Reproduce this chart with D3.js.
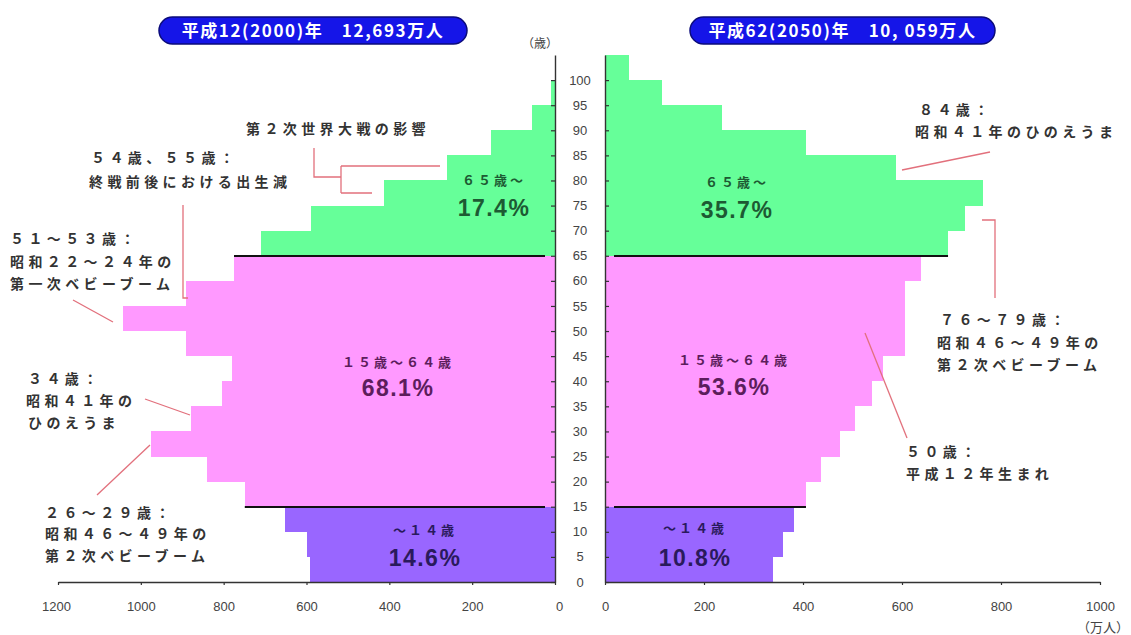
<!DOCTYPE html>
<html lang="ja">
<head>
<meta charset="utf-8">
<script src="https://cdn.jsdelivr.net/npm/d3@7"></script>
<style>
  html, body { margin: 0; padding: 0; background: #ffffff; }
  svg { display: block; }
</style>
</head>
<body>
<svg id="chart" width="1131" height="635"></svg>
<script>
// ---- data -------------------------------------------------------------
// start age of each 5-year group (the last group is 100+)
const ageGroups = [0, 5, 10, 15, 20, 25, 30, 35, 40, 45, 50, 55, 60, 65, 70, 75, 80, 85, 90, 95, 100];
// population (10,000 persons) per group
const pop2000 = [592, 600, 652, 749, 840, 976, 878, 805, 781, 890, 1043, 890, 775, 710, 589, 413, 260, 155, 56, 10, 1];
const pop2050 = [340, 360, 381, 406, 436, 474, 505, 540, 562, 607, 607, 607, 639, 693, 727, 764, 587, 406, 237, 116, 49];
const ageTicks = [0, 5, 10, 15, 20, 25, 30, 35, 40, 45, 50, 55, 60, 65, 70, 75, 80, 85, 90, 95, 100];
const xTicks2000 = [0, 200, 400, 600, 800, 1000, 1200];
const xTicks2050 = [0, 200, 400, 600, 800, 1000];
const titles = ["平成12(2000)年　12,693万人", "平成62(2050)年　10, 059万人"];
const bandNames = ["～１４歳", "１５歳～６４歳", "６５歳～"];
const share2000 = ["14.6%", "68.1%", "17.4%"];
const share2050 = ["10.8%", "53.6%", "35.7%"];

// ---- setup ------------------------------------------------------------
const svg = d3.select("#chart");
const JP = '"Noto Sans CJK JP", "Noto Sans", sans-serif';
const NUM = '"Liberation Sans", Arial, sans-serif';

const y = d3.scaleLinear().domain([0, 105]).range([582, 55]);
const xL = d3.scaleLinear().domain([0, 1200]).range([555, 58]);
const xR = d3.scaleLinear().domain([0, 1000]).range([605, 1100]);

const bandOf = a => (a < 15 ? 0 : a < 65 ? 1 : 2);
const fills = ["#9966ff", "#ff99ff", "#66ff99"];
const textCols = ["#2a1a5c", "#5c1d5c", "#1d5a33"];

const yTop = a => Math.round(y(a + 5));
const yBot = a => Math.round(y(a));

// ---- bars -------------------------------------------------------------
const left = ageGroups.map((a, i) => ({ a, v: pop2000[i] }));
const right = ageGroups.map((a, i) => ({ a, v: pop2050[i] }));

svg.append("g").selectAll("rect").data(left).join("rect")
  .attr("x", d => xL(d.v))
  .attr("y", d => yTop(d.a))
  .attr("width", d => xL(0) - xL(d.v))
  .attr("height", d => yBot(d.a) - yTop(d.a))
  .attr("fill", d => fills[bandOf(d.a)])
  .attr("shape-rendering", "crispEdges");

svg.append("g").selectAll("rect").data(right).join("rect")
  .attr("x", xR(0))
  .attr("y", d => yTop(d.a))
  .attr("width", d => xR(d.v) - xR(0))
  .attr("height", d => yBot(d.a) - yTop(d.a))
  .attr("fill", d => fills[bandOf(d.a)])
  .attr("shape-rendering", "crispEdges");

// ---- band separators at ages 15 and 65 -------------------------------
const idx = a => ageGroups.indexOf(a);
[15, 65].forEach(b => {
  const wL = Math.max(pop2000[idx(b)], pop2000[idx(b - 5)]);
  const wR = Math.max(pop2050[idx(b)], pop2050[idx(b - 5)]);
  svg.append("line")
    .attr("x1", xL(wL)).attr("x2", 545)
    .attr("y1", Math.round(y(b))).attr("y2", Math.round(y(b)))
    .attr("stroke", "#111").attr("stroke-width", 2);
  svg.append("line")
    .attr("x1", 614).attr("x2", xR(wR))
    .attr("y1", Math.round(y(b))).attr("y2", Math.round(y(b)))
    .attr("stroke", "#111").attr("stroke-width", 2);
});

// ---- axes -------------------------------------------------------------
function styleAxis(g) {
  g.selectAll("path.domain").attr("stroke", "#333").attr("stroke-width", 1.4);
  g.selectAll(".tick line").attr("stroke", "#333").attr("stroke-width", 1.2);
}

svg.append("g").attr("transform", "translate(555,0)")
  .call(d3.axisLeft(y).tickValues(ageTicks).tickSize(4).tickSizeOuter(0).tickFormat(""))
  .call(styleAxis);
svg.append("g").attr("transform", "translate(605,0)")
  .call(d3.axisRight(y).tickValues(ageTicks).tickSize(4).tickSizeOuter(0).tickFormat(""))
  .call(styleAxis);

const plain = d3.format("d");
const bottomL = svg.append("g").attr("transform", "translate(0,582)")
  .call(d3.axisBottom(xL).tickValues(xTicks2000).tickFormat(plain)
    .tickSize(3).tickSizeOuter(0).tickPadding(17))
  .call(styleAxis);
const bottomR = svg.append("g").attr("transform", "translate(0,582)")
  .call(d3.axisBottom(xR).tickValues(xTicks2050).tickFormat(plain)
    .tickSize(3).tickSizeOuter(0).tickPadding(17))
  .call(styleAxis);
[bottomL, bottomR].forEach(g => g.selectAll(".tick text")
  .attr("font-family", NUM).attr("font-size", 13).attr("fill", "#444"));
bottomL.selectAll(".tick text").filter(d => d === 0).attr("dx", 4);
bottomL.selectAll(".tick text").filter(d => d === 1200).attr("dx", -2);

// age labels between the two pyramids
svg.append("g").selectAll("text").data(ageTicks).join("text")
  .attr("x", 580).attr("y", d => y(d))
  .attr("dy", "0.35em")
  .attr("text-anchor", "middle")
  .attr("font-family", NUM).attr("font-size", 13).attr("fill", "#444")
  .text(d => d);

svg.append("text").attr("x", 540).attr("y", 44).attr("dy", "0.35em")
  .attr("text-anchor", "middle").attr("font-family", JP).attr("font-size", 12)
  .attr("fill", "#444").text("（歳）");
svg.append("text").attr("x", 1077).attr("y", 627).attr("dy", "0.35em")
  .attr("font-family", JP).attr("font-size", 13)
  .attr("fill", "#444").text("（万人）");

// ---- title pills ------------------------------------------------------
const pills = [
  { x: 159, w: 308, t: titles[0] },
  { x: 690, w: 305, t: titles[1] }
];
pills.forEach(p => {
  svg.append("rect").attr("x", p.x).attr("y", 17).attr("width", p.w).attr("height", 27)
    .attr("rx", 13.5).attr("fill", "#1515e8").attr("stroke", "#0b0b7a").attr("stroke-width", 1.5);
  svg.append("text").attr("x", p.x + p.w / 2).attr("y", 31).attr("dy", "0.35em")
    .attr("text-anchor", "middle").attr("font-family", JP).attr("font-weight", 700)
    .attr("font-size", 17).attr("letter-spacing", 1.6).attr("fill", "#ffffff").text(p.t);
});

// ---- band labels ------------------------------------------------------
const bandLabels = [
  { b: 2, x: 494, y1: 180, y2: 208, s: share2000[2] },
  { b: 1, x: 398, y1: 362, y2: 388, s: share2000[1] },
  { b: 0, x: 425, y1: 530, y2: 558, s: share2000[0] },
  { b: 2, x: 737, y1: 182, y2: 210, s: share2050[2] },
  { b: 1, x: 734, y1: 360, y2: 387, s: share2050[1] },
  { b: 0, x: 695, y1: 528, y2: 558, s: share2050[0] }
];
bandLabels.forEach(l => {
  svg.append("text").attr("x", l.x).attr("y", l.y1).attr("dy", "0.35em")
    .attr("text-anchor", "middle").attr("font-family", JP).attr("font-weight", 700)
    .attr("font-size", 13).attr("letter-spacing", 3).attr("fill", textCols[l.b])
    .text(bandNames[l.b]);
  svg.append("text").attr("x", l.x).attr("y", l.y2).attr("dy", "0.35em")
    .attr("text-anchor", "middle").attr("font-family", NUM).attr("font-weight", 700)
    .attr("font-size", 23).attr("letter-spacing", 1.5).attr("fill", textCols[l.b])
    .text(l.s);
});

// ---- annotations ------------------------------------------------------
const notes = [
  ["第２次世界大戦の影響", 246, 129],
  ["５４歳、５５歳：", 91, 158],
  ["終戦前後における出生減", 89, 182],
  ["５１～５３歳：", 10, 239],
  ["昭和２２～２４年の", 10, 262],
  ["第一次ベビーブーム", 10, 284],
  ["３４歳：", 28, 379],
  ["昭和４１年の", 26, 401],
  ["ひのえうま", 28, 423],
  ["２６～２９歳：", 45, 513],
  ["昭和４６～４９年の", 45, 534],
  ["第２次ベビーブーム", 45, 556],
  ["８４歳：", 919, 110],
  ["昭和４１年のひのえうま", 915, 132],
  ["７６～７９歳：", 940, 320],
  ["昭和４６～４９年の", 937, 343],
  ["第２次ベビーブーム", 937, 365],
  ["５０歳：", 906, 452],
  ["平成１２年生まれ", 906, 474]
];
svg.append("g").selectAll("text").data(notes).join("text")
  .attr("x", d => d[1]).attr("y", d => d[2]).attr("dy", "0.35em")
  .attr("font-family", JP).attr("font-weight", 700).attr("font-size", 14)
  .attr("letter-spacing", 4.4).attr("fill", "#333")
  .text(d => d[0]);

const leaders = [
  "M314,148 V177 H341 M341,166 V193 M341,166 H440 M341,193 H372",
  "M183,205 V298 H188",
  "M73,300 L113,322",
  "M145,399 L190,415",
  "M150,445 L97,495",
  "M990,152 L902,170",
  "M982,220 H995 V298",
  "M865,333 L907,438"
];
svg.append("g").selectAll("path").data(leaders).join("path")
  .attr("d", d => d).attr("fill", "none")
  .attr("stroke", "#e2707c").attr("stroke-width", 1.3);
</script>
</body>
</html>
